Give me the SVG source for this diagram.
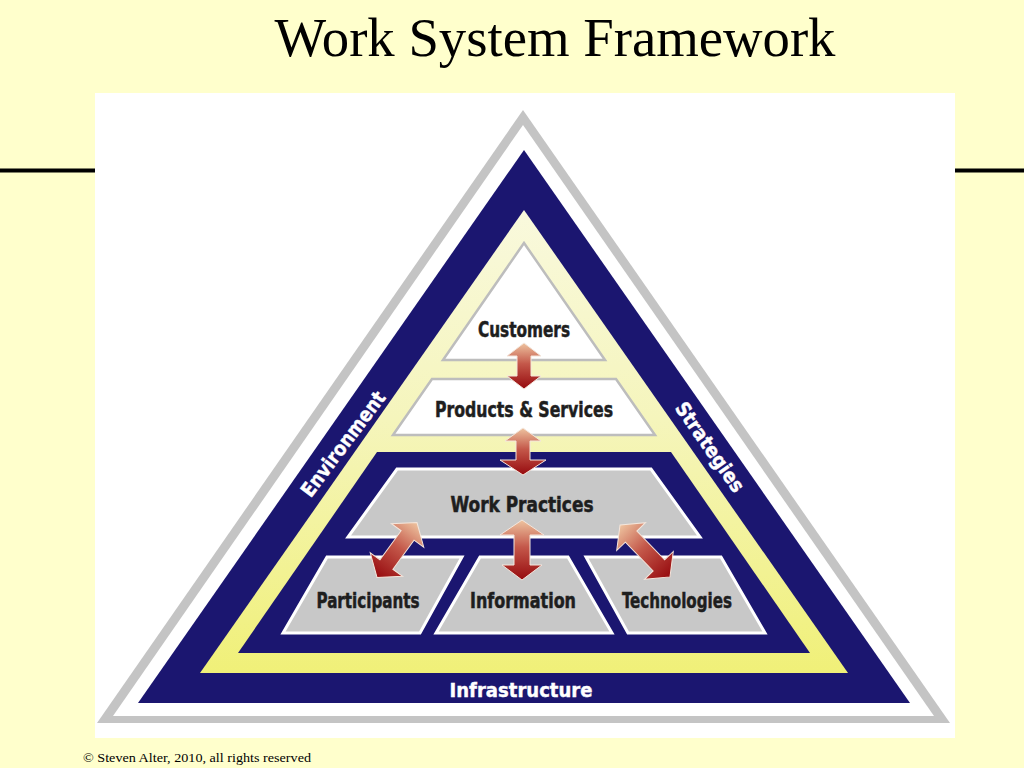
<svg xmlns="http://www.w3.org/2000/svg" width="1024" height="768" viewBox="0 0 1024 768">
<defs>
<linearGradient id="yel" x1="0" y1="0" x2="0" y2="1">
<stop offset="0" stop-color="#f9f9dd"/>
<stop offset="0.45" stop-color="#f5f5bc"/>
<stop offset="1" stop-color="#f0f078"/>
</linearGradient>
<linearGradient id="arr" x1="0" y1="0" x2="0" y2="1">
<stop offset="0" stop-color="#eec4a0"/>
<stop offset="0.45" stop-color="#c4584a"/>
<stop offset="1" stop-color="#960a0e"/>
</linearGradient>
</defs>
<style>
.lbl{font-family:"Liberation Sans Narrow","DejaVu Sans Condensed","Liberation Sans",sans-serif;font-weight:bold;font-size:21px;fill:#1e1e1e;stroke:#1e1e1e;stroke-width:0.5;text-anchor:middle}
.wlbl{font-family:"Liberation Sans Narrow","DejaVu Sans Condensed","Liberation Sans",sans-serif;font-weight:bold;font-size:20px;fill:#ffffff;stroke:#ffffff;stroke-width:0.4;text-anchor:middle}
.box{fill:#c8c8c8;stroke:#ffffff;stroke-width:3;stroke-linejoin:miter}
.wbox{fill:#ffffff;stroke:#bdbdbd;stroke-width:2.5}
.arrow{fill:url(#arr);stroke:#f4e6dc;stroke-width:1}
.navy{fill:#1b1670}
</style>
<rect x="0" y="0" width="1024" height="768" fill="#ffffcc"/>
<text x="555" y="56" font-family="'Liberation Serif','Times New Roman',serif" font-size="54" fill="#000" text-anchor="middle" textLength="561" lengthAdjust="spacingAndGlyphs">Work System Framework</text>
<rect x="0" y="168.5" width="95" height="4" fill="#000"/>
<rect x="954" y="168.5" width="70" height="4" fill="#000"/>
<rect x="95" y="93" width="860" height="645" fill="#ffffff"/>

<g id="environment-frame">
<polygon points="523,110 97,723 950,723" fill="#c4c4c4"/>
<polygon points="523,125 113,716 934,716" fill="#ffffff"/>
<polygon class="navy" points="524,150 138,703 910,703"/>
</g>
<g id="yellow-band">
<polygon points="524,210 200,673 848,673" fill="url(#yel)"/>
</g>
<g id="customers">
<polygon class="wbox" points="524,243 443,360 605,360"/>
<text class="lbl" x="524" y="337" textLength="92" lengthAdjust="spacingAndGlyphs">Customers</text>
</g>
<g id="products-services">
<polygon class="wbox" points="432,379 616,379 655,435 393,435"/>
<text class="lbl" x="524" y="417" textLength="178" lengthAdjust="spacingAndGlyphs">Products &amp; Services</text>
</g>
<g id="work-system">
<polygon class="navy" points="377,452 671,452 810,653 238,653"/>
</g>
<g id="work-practices">
<polygon class="box" points="397,469 651,469 700,537 348,537"/>
<text class="lbl" x="522" y="512" textLength="143" lengthAdjust="spacingAndGlyphs">Work Practices</text>
</g>
<g id="participants">
<polygon class="box" points="327,557 462,557 420,633 283,633"/>
<text class="lbl" x="368" y="608" textLength="103" lengthAdjust="spacingAndGlyphs">Participants</text>
</g>
<g id="information">
<polygon class="box" points="480,557 568,557 612,633 436,633"/>
<text class="lbl" x="523" y="608" textLength="106" lengthAdjust="spacingAndGlyphs">Information</text>
</g>
<g id="technologies">
<polygon class="box" points="586,557 721,557 765,633 628,633"/>
<text class="lbl" x="677" y="608" textLength="110" lengthAdjust="spacingAndGlyphs">Technologies</text>
</g>
<g id="environment-label">
<text class="wlbl" transform="translate(343,444) rotate(-53)" y="7" textLength="126" lengthAdjust="spacingAndGlyphs">Environment</text>
</g>
<g id="strategies-label">
<text class="wlbl" transform="translate(710,447) rotate(55)" y="7" textLength="105" lengthAdjust="spacingAndGlyphs">Strategies</text>
</g>
<g id="infrastructure-label">
<text class="wlbl" x="521" y="697" textLength="143" lengthAdjust="spacingAndGlyphs">Infrastructure</text>
</g>

<g id="connectors">
<path class="arrow" transform="translate(524,366)" d="M0,-23 L17,-10 L7,-10 L7,10 L17,10 L0,23 L-17,10 L-7,10 L-7,-10 L-17,-10 Z"/>
<path class="arrow" transform="translate(523,451)" d="M0,-23 L18,-10 L7,-10 L7,9 L23,9 L0,24 L-23,9 L-7,9 L-7,-10 L-18,-10 Z"/>
<path class="arrow" transform="translate(522,550)" d="M0,-30 L22,-15 L8,-15 L8,15 L20,15 L0,30 L-20,15 L-8,15 L-8,-15 L-22,-15 Z"/>
<path class="arrow" transform="translate(397,550) rotate(36)" d="M0,-34 L20,-18 L8,-18 L8,18 L20,18 L0,34 L-20,18 L-8,18 L-8,-18 L-20,-18 Z"/>
<path class="arrow" transform="translate(645,551) rotate(-44)" d="M0,-36 L20,-20 L8,-20 L8,20 L20,20 L0,36 L-20,20 L-8,20 L-8,-20 L-20,-20 Z"/>
</g>

<text x="83" y="762" font-family="'Liberation Serif','Times New Roman',serif" font-size="13" fill="#000" textLength="228" lengthAdjust="spacingAndGlyphs">© Steven Alter, 2010, all rights reserved</text>
</svg>
